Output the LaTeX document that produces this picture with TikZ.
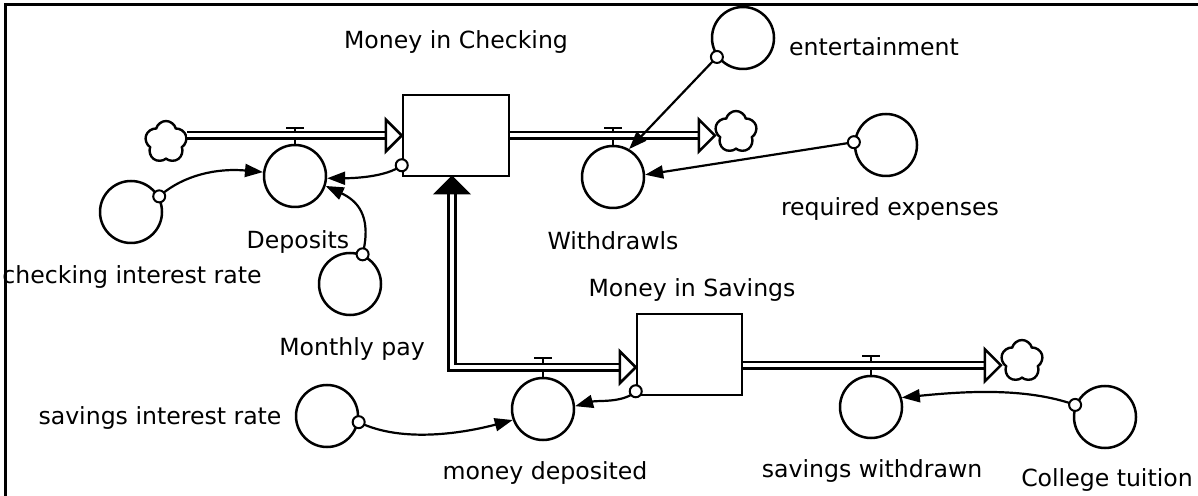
\documentclass[tikz,border=0pt]{standalone}
\usepackage{fontspec}
\setmainfont{DejaVu Sans}
\usetikzlibrary{arrows.meta,calc,shapes.symbols,positioning}

\begin{document}
\begin{tikzpicture}[x=0.5pt,y=-0.5pt,line width=1.25pt,>={Triangle[length=9pt,width=6.5pt]}]
\useasboundingbox (0,0) rectangle (1198,496);

    \tikzstyle{stock}=[draw, rectangle, inner sep=0pt];
    \tikzstyle{conv}=[draw, circle, minimum size=31pt, inner sep=0pt];
    \tikzstyle{lbl}=[font=\fontsize{11.8}{14}\selectfont, inner sep=0pt];
    \tikzstyle{sky}=[draw, cloud, cloud puffs=5, aspect=1, minimum width=21pt, minimum height=21pt, inner sep=0pt, line width=1.2pt];
    \tikzstyle{pipe}=[double, double distance=2pt, line width=1.35pt];
    \tikzstyle{link}=[->, line width=1.1pt];
    \tikzstyle{dot}=[draw, circle, fill=white, minimum size=6pt, inner sep=0pt, line width=1pt];

% stocks
\node[stock, minimum width=53pt, minimum height=40.5pt] (chk) at (456,135.5) {};
\node[lbl] at (456,42) {Money in Checking};
\node[stock, minimum width=52.5pt, minimum height=40.5pt] (sav) at (689.5,354.5) {};
\node[lbl] at (692,290) {Money in Savings};

% converters
\node[conv] (dep) at (295,176) {};
\node[conv] (wd) at (613,177) {};
\node[conv] (ent) at (743,38) {};
\node[conv] (req) at (886,145) {};
\node[conv] (cir) at (131,212) {};
\node[conv] (pay) at (350,284) {};
\node[conv] (mdep) at (543,409) {};
\node[conv] (sir) at (327,416) {};
\node[conv] (swd) at (871,407) {};
\node[conv] (tui) at (1105,417) {};

\node[lbl] at (298,242) {Deposits};
\node[lbl] at (613,241) {Withdrawls};
\node[lbl] at (874,47) {entertainment};
\node[lbl] at (890,209) {required expenses};
\node[lbl] at (132,277) {checking interest rate};
\node[lbl] at (352,349) {Monthly pay};
\node[lbl] at (160,418) {savings interest rate};
\node[lbl] at (545,473) {money deposited};
\node[lbl] at (872,471) {savings withdrawn};
\node[lbl] at (1107,480) {College tuition};

% clouds
\node[sky] (src1) at (166,142) {};
\node[sky] (snk1) at (736,132) {};
\node[sky] (snk2) at (1022,361) {};

% valves
\foreach \c/\y in {dep/136, wd/136, mdep/366, swd/364}
  \draw (\c.north) -- (\c.north |- 0,\y-8) ++(-9,0) -- ++(18,0);

% pipes
\coordinate (sin) at ($(sav.south west)+(0,-29)$);
\coordinate (sout) at ($(sav.south east)+(0,-31)$);
\coordinate (up) at ($(chk.south)+(-4,0)$);
\coordinate (tipA) at (chk.west);
\coordinate (tipB) at (snk1.west |- chk.west);
\coordinate (tipC) at (sin);
\coordinate (tipD) at (snk2.west |- sout);

\draw[pipe] (src1.east |- chk.west) -- ($(tipA)+(-8,0)$);
\draw[pipe] (chk.east) -- ($(tipB)+(-8,0)$);
\draw[pipe] ($(up)+(0,14)$) -- (up |- sin) -- ($(tipC)+(-8,0)$);
\draw[pipe] (sout) -- ($(tipD)+(-8,0)$);
\foreach \t in {tipA,tipB,tipC,tipD}
  \draw[fill=white] (\t) -- ++(-16,-16) -- ++(0,32) -- cycle;
\draw[fill=black] (up) -- ++(-16,16) -- ++(32,0) -- cycle;

% connectors
\draw[link] (cir.29) .. controls +(25,-22) and +(-45,-4) .. (dep.173);
\draw[link] ($(chk.south west)+(0,-12)$) .. controls +(-15,12) and +(25,0) .. (dep.-4);
\draw[link] (pay.67) .. controls +(10,-40) and +(30,14) .. (dep.-18);
\draw[link] (ent.216) -- (wd.60);
\draw[link] (req.175) -- (wd.4);
\draw[link] ($(sav.south west)+(0,-5)$) .. controls +(-12,12) and +(22,-6) .. (mdep.5);
\draw[link] (sir.-11) .. controls +(45,22) and +(-45,12) .. (mdep.200);
\draw[link] (tui.158) .. controls +(-50,-18) and +(60,-6) .. (swd.17);

\node[dot] at (cir.29) {};
\node[dot] at ($(chk.south west)+(0,-12)$) {};
\node[dot] at (pay.67) {};
\node[dot] at (ent.216) {};
\node[dot] at (req.175) {};
\node[dot] at ($(sav.south west)+(0,-5)$) {};
\node[dot] at (sir.-11) {};
\node[dot] at (tui.158) {};

% frame
\draw[line width=1.5pt] (5,496) -- (5,5) -- (1198,5);
\end{tikzpicture}
\end{document}
